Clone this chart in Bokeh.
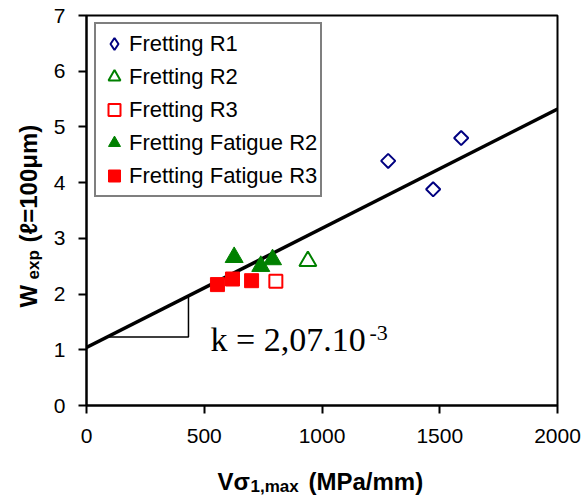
import numpy as np
from bokeh.plotting import figure
from bokeh.layouts import row, column
from bokeh.models import Range1d, FixedTicker, Label, Legend, LegendItem
from bokeh.embed import file_html
from bokeh.resources import INLINE

# ---- data ----
r1_x = [1281, 1472, 1591]          # Fretting R1
r1_y = [4.39, 3.88, 4.80]
r2_x = [940]                       # Fretting R2
r2_y = [2.59]
r3_x = [804]                       # Fretting R3
r3_y = [2.23]
ff2_x = [627, 740, 790]            # Fretting Fatigue R2
ff2_y = [2.66, 2.50, 2.62]
ff3_x = [556, 620, 701]            # Fretting Fatigue R3
ff3_y = [2.17, 2.27, 2.24]
fit_x = [0, 2000]                  # fitted line end points
fit_y = [1.04, 5.32]
slope_tri_x = [88, 433]            # slope triangle horizontal extent
x_ticks = [0, 500, 1000, 1500, 2000]
y_ticks = [0, 1, 2, 3, 4, 5, 6, 7]
names = ["Fretting R1", "Fretting R2", "Fretting R3",
         "Fretting Fatigue R2", "Fretting Fatigue R3"]

NAVY, GREEN, RED = "#000080", "#008000", "#FF0000"
SANS = "Liberation Sans"
SERIF = "Liberation Serif"


def blank(w, h):
    f = figure(width=w, height=h, x_range=Range1d(0, w), y_range=Range1d(0, h),
               output_backend="svg", toolbar_location=None,
               x_axis_location=None, y_axis_location=None,
               min_border=0, min_border_left=0, min_border_right=0,
               min_border_top=0, min_border_bottom=0)
    f.grid.visible = False
    f.outline_line_color = None
    f.background_fill_color = "white"
    f.border_fill_color = "white"
    return f


def lab(f, x, y, t, size, angle=0.0, font=SANS, style="bold"):
    f.add_layout(Label(x=x, y=y, x_units="screen", y_units="screen", text=t,
                       angle=angle, text_font=font, text_font_size=size,
                       text_font_style=style, text_color="black",
                       text_baseline="alphabetic", text_align="left"))


# ---- main plot ----
p = figure(width=534, height=453, x_range=Range1d(0, 2000), y_range=Range1d(0, 7),
           output_backend="svg", toolbar_location=None,
           min_border_left=36, min_border_right=27, min_border_top=15, min_border_bottom=48)
p.grid.visible = False
p.background_fill_color = "white"
p.border_fill_color = "white"
p.outline_line_color = "black"
p.outline_line_width = 2

for ax, ticks in ((p.xaxis, x_ticks), (p.yaxis, y_ticks)):
    ax.ticker = FixedTicker(ticks=ticks)
    ax.minor_tick_line_color = None
    ax.axis_line_color = "black"
    ax.axis_line_width = 2
    ax.major_tick_line_color = "black"
    ax.major_tick_line_width = 2
    ax.major_tick_in = 0
    ax.major_tick_out = 8
    ax.major_label_text_font = SANS
    ax.major_label_text_font_size = "21px"
    ax.major_label_text_color = "black"
p.xaxis.major_label_standoff = 15
p.yaxis.major_label_standoff = 13

# fitted line
p.line(fit_x, fit_y, line_color="black", line_width=3.5)


# slope triangle (on the fitted line)
def fit_at(x):
    return fit_y[0] + (fit_y[1] - fit_y[0]) * (x - fit_x[0]) / (fit_x[1] - fit_x[0])


y_base = fit_at(slope_tri_x[0])
y_top = fit_at(slope_tri_x[1])
p.line([slope_tri_x[0], slope_tri_x[1], slope_tri_x[1]], [y_base, y_base, y_top],
       line_color="black", line_width=1.5)

# data series
g1 = p.scatter(r1_x, r1_y, marker="square", angle=np.pi / 4, size=10,
               fill_color=None, line_color=NAVY, line_width=2)
# same series as a diamond for the legend only (legend glyphs ignore angle);
# it is muted with an invisible muted glyph so it does not show in the plot
g1_leg = p.scatter(r1_x, r1_y, marker="diamond", size=10,
                   fill_color=None, line_color=NAVY, line_width=2,
                   muted_line_alpha=0.0, muted_fill_alpha=0.0)
g1_leg.muted = True
g2 = p.scatter(r2_x, r2_y, marker="triangle", size=17,
               fill_color=None, line_color=GREEN, line_width=2)
g3 = p.scatter(r3_x, r3_y, marker="square", size=13,
               fill_color=None, line_color=RED, line_width=2)
g4 = p.scatter(ff2_x, ff2_y, marker="triangle", size=18,
               fill_color=GREEN, line_color=GREEN, line_width=1)
g5 = p.scatter(ff3_x, ff3_y, marker="square", size=14,
               fill_color=RED, line_color=RED, line_width=1)

legend = Legend(items=[LegendItem(label=n, renderers=[r]) for n, r in
                       zip(names, [g1_leg, g2, g3, g4, g5])],
                location=(8, 208), margin=0, padding=3, spacing=0,
                glyph_width=30, glyph_height=33, label_standoff=0,
                label_text_font=SANS, label_text_font_size="22px",
                label_text_color="black", click_policy="none",
                border_line_color="black", border_line_width=2,
                background_fill_color="white", background_fill_alpha=1.0)
p.add_layout(legend)

# slope annotation
lab(p, 124, 66, "k = 2,07.10", "34px", font=SERIF, style="normal")
lab(p, 283, 73, "-3", "22px", font=SERIF, style="normal")

# ---- left strip: y axis title  W_exp (l=100um) ----
left = blank(50, 498)
lab(left, 28, 191, "W", "24px", np.pi / 2)
lab(left, 33, 219, "exp", "17px", np.pi / 2)
lab(left, 28, 256, "(ℓ=100μm)", "24px", np.pi / 2)

# ---- bottom strip: x axis title  V sigma_{1,max} (MPa/mm) ----
# (its frame is aligned with the main plot's frame, which starts at x = 86)
bottom = blank(534, 45)
lab(bottom, 131, 17, "Vσ", "24px")
lab(bottom, 164, 12, "1,max", "17px")
lab(bottom, 222, 17, "(MPa/mm)", "24px")

layout = row(left, column(p, bottom, spacing=0), spacing=0)
open("out.html", "w").write(file_html(layout, INLINE))
